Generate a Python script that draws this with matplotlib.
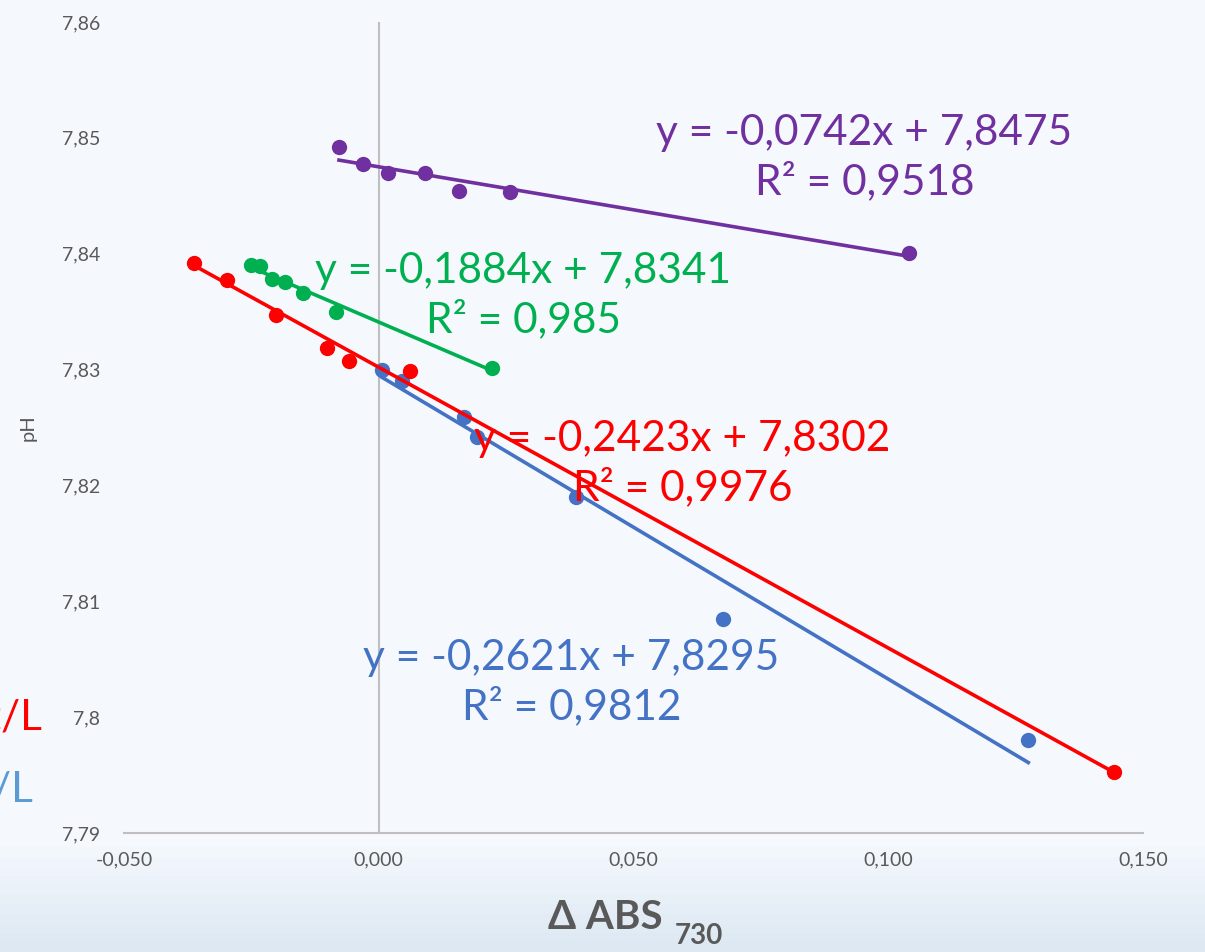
import numpy as np
import matplotlib.pyplot as plt

# data (delta ABS 730 vs pH)
blue_x = [0.0006, 0.0045, 0.0167, 0.0192, 0.0388, 0.0675, 0.1275]
blue_y = [7.8300, 7.8290, 7.8259, 7.8242, 7.8190, 7.8085, 7.7980]
red_x = [-0.0363, -0.0298, -0.0202, -0.0102, -0.0059, 0.0061, 0.1443]
red_y = [7.8392, 7.8377, 7.8347, 7.8319, 7.8307, 7.8299, 7.7953]
green_x = [-0.0251, -0.0233, -0.0210, -0.0184, -0.0149, -0.0084, 0.0222]
green_y = [7.8390, 7.8389, 7.8378, 7.8376, 7.8366, 7.8350, 7.8301]
purple_x = [-0.0078, -0.0031, 0.0018, 0.0090, 0.0157, 0.0257, 0.1041]
purple_y = [7.8492, 7.8477, 7.8470, 7.8470, 7.8454, 7.8453, 7.8401]

# trendline coefficients (slope, intercept, R2) as shown on the chart
fits = {
    'blue': (-0.2621, 7.8295, '0,9812'),
    'red': (-0.2423, 7.8302, '0,9976'),
    'green': (-0.1884, 7.8341, '0,985'),
    'purple': (-0.0742, 7.8475, '0,9518'),
}

colors = {'blue': '#4472C4', 'red': '#FF0000', 'green': '#00B050', 'purple': '#7030A0'}
series = [('blue', blue_x, blue_y), ('red', red_x, red_y),
          ('green', green_x, green_y), ('purple', purple_x, purple_y)]

plt.rcParams['font.family'] = ['Lato', 'DejaVu Sans']

fig = plt.figure(figsize=(12.05, 9.52), dpi=100)

# background gradient
bg = fig.add_axes([0, 0, 1, 1], zorder=-10)
grad = np.ones((100, 1))
grad[88:, 0] = np.linspace(1, 0, 12)
bg.imshow(grad, aspect='auto', cmap=plt.matplotlib.colors.LinearSegmentedColormap.from_list(
    'bg', ['#DDE8F3', '#F5F9FD']), extent=[0, 1, 0, 1], vmin=0, vmax=1)
bg.axis('off')

ax = fig.add_axes([0.1029, 0.125, 0.8456, 0.8519])
ax.set_facecolor('none')

for name, xs, ys in series:
    c = colors[name]
    slope, icpt, r2 = fits[name]
    ax.plot(xs, ys, 'o', color=c, markersize=10, zorder=3)
    xl = np.array([min(xs), max(xs)])
    ax.plot(xl, slope * xl + icpt, color=c, lw=2.6, zorder=3)

ax.set_xlim(-0.05, 0.15)
ax.set_ylim(7.79, 7.86)
ax.set_xticks(np.arange(-0.05, 0.151, 0.05))
ax.set_yticks(np.arange(7.79, 7.861, 0.01))
ax.set_xticklabels(['-0,050', '0,000', '0,050', '0,100', '0,150'])
ax.set_yticklabels(['7,79', '7,8', '7,81', '7,82', '7,83', '7,84', '7,85', '7,86'])
ax.tick_params(length=0, labelsize=14, labelcolor='#595959')
ax.tick_params(axis='y', pad=17)
ax.tick_params(axis='x', pad=13)
for s in ['top', 'right', 'left']:
    ax.spines[s].set_visible(False)
ax.spines['bottom'].set_color('#BFBFBF')
ax.spines['bottom'].set_linewidth(1.5)
ax.axvline(0, color='#BFBFBF', lw=1.5, zorder=1)

ax.set_ylabel('pH', fontsize=14.5, color='#595959')
ax.yaxis.set_label_coords(-0.086, 0.5)

# equation labels (center of the two-line block)
labels = {'purple': (0.0953, 7.8483), 'green': (0.0284, 7.8364),
          'red': (0.0596, 7.8219), 'blue': (0.0378, 7.8030)}
for name, (lx, ly) in labels.items():
    slope, icpt, r2 = fits[name]
    txt = 'y = %sx + %s\nR² = %s' % (('%.4f' % slope).replace('.', ','),
                                     ('%.4f' % icpt).replace('.', ','), r2)
    ax.text(lx, ly, txt, color=colors[name], fontsize=30.5, ha='center', va='center',
            linespacing=1.3, zorder=4)

# axis title
fig.text(0.550, 0.024, 'Δ ABS', fontsize=29, fontweight='bold', color='#595959', ha='right')
fig.text(0.560, 0.008, '730', fontsize=20, fontweight='bold', color='#595959', ha='left')

# legend entries cut off at the left edge
fig.text(0.035, 0.246, 'mg t/L', fontsize=30.5, color='#FF0000', ha='right', va='center')
fig.text(0.027, 0.170, 'mg/L', fontsize=30.5, color='#5B9BD5', ha='right', va='center')

fig.savefig('out.png', dpi=100)
